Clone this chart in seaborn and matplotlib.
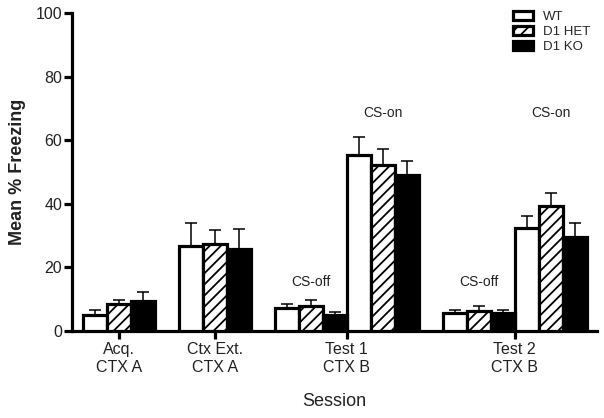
import matplotlib
matplotlib.use("Agg")
import matplotlib.pyplot as plt
from matplotlib.container import BarContainer
import seaborn as sns
import pandas as pd
import numpy as np

# ---- data ----
groups = ["Acq.", "Ctx Ext.", "Test 1 CS-off", "Test 1 CS-on", "Test 2 CS-off", "Test 2 CS-on"]
genotypes = ["WT", "D1 HET", "D1 KO"]
wt_mean = [5.2, 26.8, 7.1, 55.3, 5.6, 32.3]
wt_sem = [1.3, 7.1, 1.3, 5.6, 1.0, 4.0]
het_mean = [8.5, 27.3, 7.9, 52.2, 6.4, 39.4]
het_sem = [1.3, 4.5, 1.8, 5.1, 1.6, 4.1]
ko_mean = [9.4, 25.8, 5.2, 49.1, 5.6, 29.5]
ko_sem = [2.8, 6.4, 0.9, 4.4, 1.0, 4.6]
tick_labels = ["Acq.\nCTX A", "Ctx Ext.\nCTX A", "Test 1\nCTX B", "Test 2\nCTX B"]
annot_labels = ["CS-off", "CS-on", "CS-off", "CS-on"]

# ---- layout (group positions on the x axis) ----
group_pos = [0.0, 4/3, 8/3, 11/3, 5.0, 6.0]
tick_pos = [0.0, 4/3, (8/3 + 11/3) / 2, 5.5]
annot_groups = [2, 3, 4, 5]
annot_y = [15.4, 68.5, 15.4, 68.5]

means = {"WT": wt_mean, "D1 HET": het_mean, "D1 KO": ko_mean}
sems = {"WT": wt_sem, "D1 HET": het_sem, "D1 KO": ko_sem}
rows = []
for g in genotypes:
    for i, grp in enumerate(groups):
        rows.append({"pos": group_pos[i], "group": grp, "genotype": g,
                     "mean": means[g][i], "sem": sems[g][i]})
df = pd.DataFrame(rows)

sns.set_style("ticks")
plt.rcParams["font.family"] = ["Liberation Sans", "DejaVu Sans"]
plt.rcParams["hatch.linewidth"] = 1.3
plt.rcParams["hatch.color"] = "black"

fig = plt.figure(figsize=(6.04, 4.18), dpi=100)
ax = fig.add_axes([0.119, 0.208, 0.869, 0.761])

palette = {"WT": "white", "D1 HET": "white", "D1 KO": "black"}
sns.barplot(data=df, x="pos", y="mean", hue="genotype", hue_order=genotypes,
            palette=palette, native_scale=True, width=1.0, gap=0,
            errorbar=None, saturation=1, edgecolor="black", linewidth=2.3,
            ax=ax, zorder=3)

bar_conts = [c for c in ax.containers if isinstance(c, BarContainer)]
hatches = {"WT": "", "D1 HET": "///", "D1 KO": ""}
handles = []
for g, cont in zip(genotypes, bar_conts):
    patches = sorted(cont.patches, key=lambda p: p.get_x())
    handles.append(patches[0])
    errs = df[df.genotype == g].sort_values("pos")["sem"].to_numpy()
    xs, hs = [], []
    for p in patches:
        p.set_hatch(hatches[g])
        xs.append(p.get_x() + p.get_width() / 2)
        hs.append(p.get_height())
    ax.errorbar(xs, hs, yerr=[np.zeros(len(errs)), errs], fmt="none",
                ecolor="black", elinewidth=1.1, capsize=4.6, capthick=1.1, zorder=2)

leg = ax.get_legend()
if leg is not None:
    leg.remove()
fig.legend(handles, genotypes, loc="upper right", bbox_to_anchor=(0.995, 1.0),
           frameon=False, fontsize=9.5, handlelength=1.45, handleheight=0.75,
           labelspacing=0.2, handletextpad=0.8, borderpad=0.3)

for gi, lab, yv in zip(annot_groups, annot_labels, annot_y):
    ax.text(group_pos[gi], yv, lab, ha="center", va="center", fontsize=10, color="#222222")

ax.set_xlim(-0.65, 6.64)
ax.set_ylim(0, 100)
ax.set_yticks([0, 20, 40, 60, 80, 100])
ax.set_xticks(tick_pos)
ax.set_xticklabels(tick_labels)
ax.tick_params(axis="both", direction="out", length=6, width=2.3, labelsize=11.5,
               colors="black", labelcolor="#222222", pad=2)
ax.tick_params(axis="y", pad=1)
for s in ["left", "bottom"]:
    ax.spines[s].set_linewidth(2.3)
    ax.spines[s].set_color("black")
for s in ["top", "right"]:
    ax.spines[s].set_visible(False)
ax.set_ylabel("Mean % Freezing", fontsize=13, fontweight="bold", color="#222222", labelpad=7)
ax.set_xlabel("Session", fontsize=13, color="#222222", labelpad=13)

fig.savefig("out.png", dpi=100)
